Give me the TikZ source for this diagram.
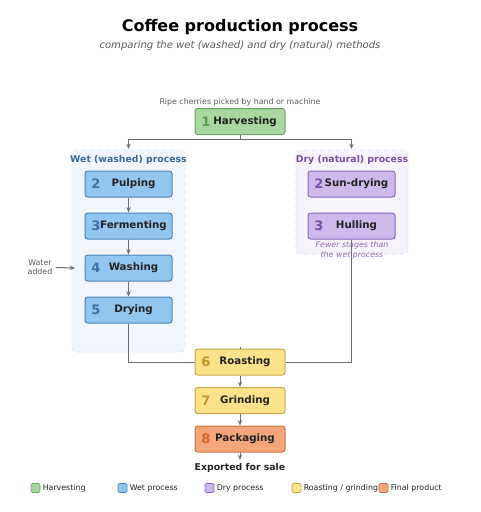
\documentclass[tikz,border=0pt]{standalone}
\usepackage{fontspec}
\setmainfont{DejaVu Sans}
\usetikzlibrary{arrows.meta,positioning}
\definecolor{hfill}{HTML}{A9D6A1}\definecolor{hdraw}{HTML}{66A65C}\definecolor{hnum}{HTML}{5A9E4B}
\definecolor{wfill}{HTML}{93C6EF}\definecolor{wdraw}{HTML}{4B82B5}\definecolor{wnum}{HTML}{3D70A6}
\definecolor{dfill}{HTML}{CDB9EB}\definecolor{ddraw}{HTML}{8864BC}\definecolor{dnum}{HTML}{7452A8}
\definecolor{rfill}{HTML}{FDE28C}\definecolor{rdraw}{HTML}{C9A449}\definecolor{rnum}{HTML}{C2962A}
\definecolor{pfill}{HTML}{F4A67B}\definecolor{pdraw}{HTML}{C57648}\definecolor{pnum}{HTML}{D4622A}
\definecolor{txt}{HTML}{222222}
\definecolor{conncol}{HTML}{6E6E6E}
\definecolor{wetbgfill}{HTML}{F1F6FC}\definecolor{wetbgdraw}{HTML}{D5E3F1}
\definecolor{drybgfill}{HTML}{F7F3FB}\definecolor{drybgdraw}{HTML}{E3DAF0}
\definecolor{wetlab}{HTML}{3A6B98}\definecolor{drylab}{HTML}{7A4FA3}
\def\u{0.75pt}
\tikzset{
  stepbox/.style={draw, rounded corners=2pt, line width=0.75pt, minimum height=26*0.75pt, inner sep=0pt},
  numtxt/.style={font=\fontsize{9.8}{12}\selectfont\bfseries, inner sep=0pt},
  nametxt/.style={font=\fontsize{7.7}{9}\selectfont\bfseries, text=txt, inner sep=0pt},
  conn/.style={draw=conncol, line width=0.75pt, -{Stealth[length=4pt,width=3.2pt]}},
  plainline/.style={draw=conncol, line width=0.75pt},
  clusterbg/.style={rounded corners=3pt, dashed, line width=0.5pt, inner sep=0pt},
  small/.style={font=\fontsize{5.9}{7}\selectfont, text=black!65, inner sep=0pt, align=center},
  swatch/.style={draw, rounded corners=1pt, line width=0.6pt, minimum width=9*0.75pt, minimum height=9*0.75pt, inner sep=0pt},
  legtxt/.style={font=\fontsize{5.9}{7}\selectfont, text=txt, inner sep=0pt, anchor=west},
}
\newcommand{\stepnode}[9]{%
  \node[stepbox, minimum width=#4*0.75pt, fill=#5, draw=#6] (#1) at (#2,#3) {};
  \node[numtxt, text=#7] (#1n) at ([xshift=11.5*\u]#1.west) {#8};
  \node[nametxt] (#1t) at ([xshift=5*\u]#1.center) {#9};
}
\begin{document}
\begin{tikzpicture}[x=0.75pt,y=-0.75pt]
\useasboundingbox (0,0) rectangle (480,512);
% title
\node[font=\fontsize{12}{14}\selectfont\bfseries, inner sep=0pt] (title) at (240,27) {Coffee production process};
\node[font=\fontsize{7.55}{9}\selectfont\itshape, text=black!65, inner sep=0pt] (subtitle) at (240,46) {comparing the wet (washed) and dry (natural) methods};
% clusters
\node[clusterbg, fill=wetbgfill, draw=wetbgdraw, minimum width=113*0.75pt, minimum height=202*0.75pt] (wet) at (128.5,251) {};
\node[clusterbg, fill=drybgfill, draw=drybgdraw, minimum width=112*0.75pt, minimum height=104*0.75pt] (dry) at (352,202) {};
\node[font=\fontsize{7}{8}\selectfont\bfseries, text=wetlab, inner sep=0pt] (wetl) at (128.5,160) {Wet (washed) process};
\node[font=\fontsize{7}{8}\selectfont\bfseries, text=drylab, inner sep=0pt] (dryl) at (352,160) {Dry (natural) process};
% steps
\node[small] (ripe) at (240,102) {Ripe cherries picked by hand or machine};
\stepnode{harv}{240}{121.5}{90}{hfill}{hdraw}{hnum}{1}{Harvesting}
\stepnode{pulp}{128.5}{184}{87}{wfill}{wdraw}{wnum}{2}{Pulping}
\stepnode{ferm}{128.5}{226}{87}{wfill}{wdraw}{wnum}{3}{Fermenting}
\stepnode{wash}{128.5}{268}{87}{wfill}{wdraw}{wnum}{4}{Washing}
\stepnode{wdry}{128.5}{310}{87}{wfill}{wdraw}{wnum}{5}{Drying}
\stepnode{sun}{351.5}{184}{87}{dfill}{ddraw}{dnum}{2}{Sun-drying}
\stepnode{hull}{351.5}{226}{87}{dfill}{ddraw}{dnum}{3}{Hulling}
\stepnode{roast}{240}{362}{90}{rfill}{rdraw}{rnum}{6}{Roasting}
\stepnode{grind}{240}{400.5}{90}{rfill}{rdraw}{rnum}{7}{Grinding}
\stepnode{pack}{240}{439}{90}{pfill}{pdraw}{pnum}{8}{Packaging}
\node[font=\fontsize{5.9}{7.2}\selectfont\itshape, text=drylab!85, inner sep=0pt, align=center] (fewer) at (352,250.5) {Fewer stages than\\the wet process};
\node[font=\fontsize{7}{8}\selectfont\bfseries, text=txt, inner sep=0pt] (export) at (240,468) {Exported for sale};
\node[small] (water) at (40,267.5) {Water\\added};
% connectors
\coordinate (split) at (240,139);
\draw[plainline] (harv.south) -- (split);
\draw[conn] (split) -| (128.5,149);
\draw[conn] (split) -| (351.5,149);
\draw[conn] (pulp) -- (ferm);
\draw[conn] (ferm) -- (wash);
\draw[conn] (wash) -- (wdry);
\coordinate (wtip) at (75,268);
\draw[conn] (water.east) ++(3,0) -- (wtip);
\draw[plainline] (wdry.south) |- (roast.west);
\draw[plainline] (hull.south) |- (roast.east);
\coordinate (rtop) at (240,346.5);
\draw[plainline] (rtop) -- (roast.north);
\draw[conn] (roast) -- (grind);
\draw[conn] (grind) -- (pack);
\coordinate (etop) at (240,460);
\draw[conn] (pack.south) -- (etop);
% legend
\node[swatch, fill=hfill, draw=hdraw] (l1) at (35.5,488) {};
\node[legtxt] (l1t) at (42.5,488) {Harvesting};
\node[swatch, fill=wfill, draw=wdraw] (l2) at (122.5,488) {};
\node[legtxt] (l2t) at (129.5,488) {Wet process};
\node[swatch, fill=dfill, draw=ddraw] (l3) at (209.5,488) {};
\node[legtxt] (l3t) at (216.5,488) {Dry process};
\node[swatch, fill=rfill, draw=rdraw] (l4) at (296.5,488) {};
\node[legtxt] (l4t) at (303.5,488) {Roasting / grinding};
\node[swatch, fill=pfill, draw=pdraw] (l5) at (383.5,488) {};
\node[legtxt] (l5t) at (390.5,488) {Final product};
\end{tikzpicture}
\end{document}
